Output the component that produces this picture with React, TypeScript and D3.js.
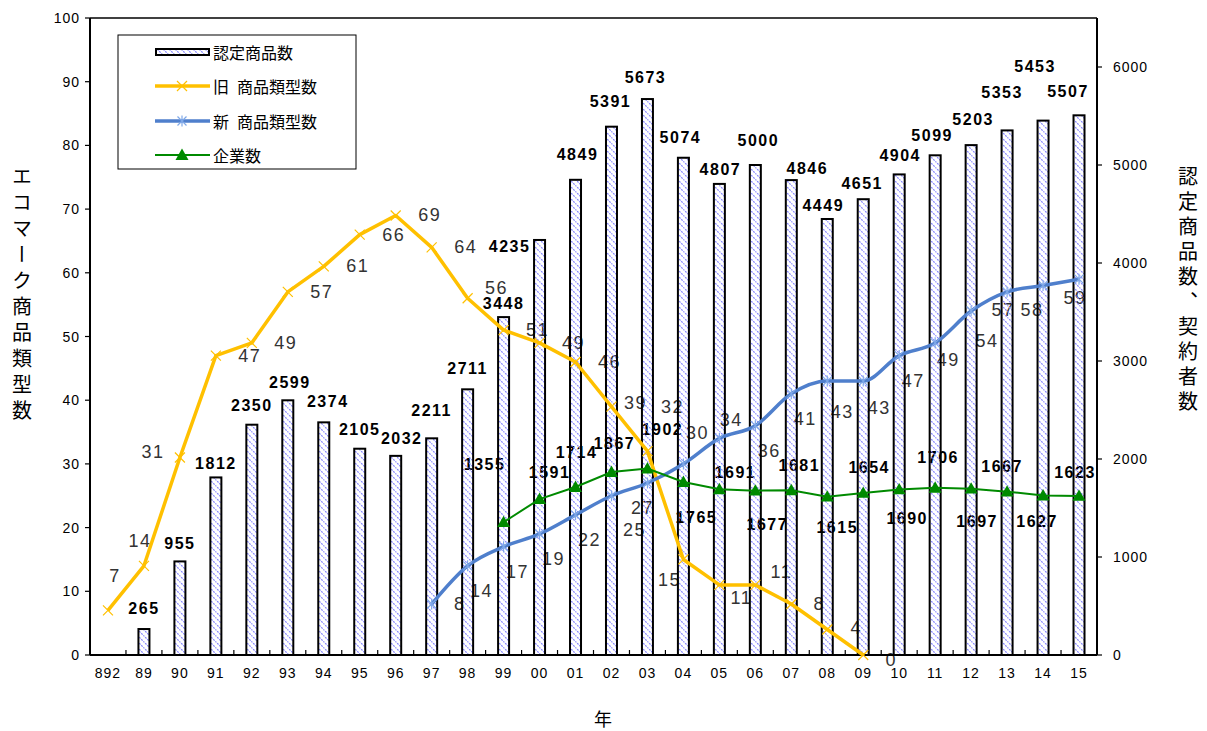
import React from "react";
import * as d3 from "d3";

// ---------- data ----------
const categories = ["892","89","90","91","92","93","94","95","96","97","98","99","00","01","02","03","04","05","06","07","08","09","10","11","12","13","14","15"];
const certifiedProducts: (number | null)[] = [null,265,955,1812,2350,2599,2374,2105,2032,2211,2711,3448,4235,4849,5391,5673,5074,4807,5000,4846,4449,4651,4904,5099,5203,5353,5453,5507];
const oldTypes: (number | null)[] = [7,14,31,47,49,57,61,66,69,64,56,51,49,46,39,32,15,11,11,8,4,0,null,null,null,null,null,null];
const newTypes: (number | null)[] = [null,null,null,null,null,null,null,null,null,8,14,17,19,22,25,27,30,34,36,41,43,43,47,49,54,57,58,59];
const enterprises: (number | null)[] = [null,null,null,null,null,null,null,null,null,null,null,1355,1591,1714,1867,1902,1765,1691,1677,1681,1615,1654,1690,1706,1697,1667,1627,1623];
const leftTicks = [0,10,20,30,40,50,60,70,80,90,100];
const rightTicks = [0,1000,2000,3000,4000,5000,6000];
const seriesNames = ["認定商品数", "旧\u2002商品類型数", "新\u2002商品類型数", "企業数"];
const leftTitle = "エコマーク商品類型数";
const rightTitle = "認定商品数、契約者数";
const xTitle = "年";

// ---------- label layout (offsets of label centre from its mark) ----------
const barLabelOffset: Record<string, [number, number]> = {
  "89": [0, -21], "90": [0, -18], "91": [0, -14], "92": [0, -19], "93": [2, -18], "94": [4, -21],
  "95": [0, -19], "96": [6, -17], "97": [0, -28], "98": [0, -21], "99": [0, -14], "00": [-30, 7],
  "01": [2, -25], "02": [-1, -25], "03": [-2, -22], "04": [-3, -20], "05": [1, -14], "06": [3, -25],
  "07": [16, -12], "08": [-4, -13], "09": [-1, -16], "10": [1, -19], "11": [-3, -20], "12": [2, -26],
  "13": [-5, -38], "14": [-8, -54], "15": [-11, -24],
};
const oldLabelOffset: Record<string, [number, number]> = {
  "892": [7, -34], "89": [-4, -25], "90": [-27, -6], "98": [29, -10], "02": [24, -4], "03": [25, -44],
  "04": [-14, 21], "05": [22, 13], "06": [26, -13], "07": [28, 0], "08": [29, -2], "09": [28, 5],
};
const newLabelOffset: Record<string, [number, number]> = {
  "97": [28, 0], "02": [23, 34], "03": [-5, 25], "04": [14, -31], "05": [12, -18], "08": [15, 31],
  "09": [16, 27], "11": [13, 17], "12": [16, 30], "13": [-4, 18], "14": [-11, 24], "15": [-4, 19],
};
const entLabelOffset: Record<string, [number, number]> = {
  "99": [-19, -58], "00": [10, -27], "01": [1, -35], "02": [3, -29], "03": [15, -39], "04": [13, 35],
  "05": [16, -17], "06": [12, 34], "07": [8, -25], "08": [10, 31], "09": [6, -25], "10": [8, 29],
  "11": [3, -30], "12": [6, 33], "13": [-5, -25], "14": [-6, 26], "15": [-4, -23],
};

const W = 1207, H = 731;
const PL = 90, PR = 1097, PT = 18, PB = 655;
const ORANGE = "#FFC000";
const BLUE = "#4F7FCC";
const BLUE_MK = "#7FA8E8";
const GREEN = "#008A00";
const NUM_FONT = "'Liberation Sans', Arial, sans-serif";
const CJK_FONT = "'Noto Sans CJK JP', sans-serif";

export default function App() {
  const x = d3.scaleBand<string>().domain(categories).range([PL, PR]).padding(0);
  const cx = (c: string) => (x(c) as number) + x.bandwidth() / 2;
  const yL = d3.scaleLinear().domain([0, 100]).range([PB, PT]);
  const yR = d3.scaleLinear().domain([0, 6500]).range([PB, PT]);
  const barW = 11;

  type P = { c: string; v: number };
  const pts = (arr: (number | null)[]): P[] =>
    categories.map((c, i) => ({ c, v: arr[i] as number })).filter((d) => d.v !== null && d.v !== undefined);

  const oldPts = pts(oldTypes);
  const newPts = pts(newTypes);
  const entPts = pts(enterprises);
  const barPts = pts(certifiedProducts);

  const oldLine = d3.line<P>().x((d) => cx(d.c)).y((d) => yL(d.v)).curve(d3.curveLinear)(oldPts) || "";
  const newLine = d3.line<P>().x((d) => cx(d.c)).y((d) => yL(d.v)).curve(d3.curveMonotoneX)(newPts) || "";
  const entLine = d3.line<P>().x((d) => cx(d.c)).y((d) => yR(d.v)).curve(d3.curveLinear)(entPts) || "";

  const xMark = (px: number, py: number, s: number, color: string, key: string) => (
    <path key={key} d={`M${px - s},${py - s}L${px + s},${py + s}M${px - s},${py + s}L${px + s},${py - s}`} stroke={color} strokeWidth={1.2} fill="none" />
  );
  const starMark = (px: number, py: number, s: number, color: string, key: string) => (
    <path key={key} d={`M${px - s},${py - s}L${px + s},${py + s}M${px - s},${py + s}L${px + s},${py - s}M${px},${py - s - 1}L${px},${py + s + 1}`} stroke={color} strokeWidth={1.2} fill="none" />
  );
  const triMark = (px: number, py: number, s: number, color: string, key: string) => (
    <path key={key} d={`M${px},${py - s}L${px + s},${py + s * 0.75}L${px - s},${py + s * 0.75}Z`} fill={color} />
  );

  const numLabelStyle = { fontFamily: NUM_FONT, letterSpacing: "1.5px" } as React.CSSProperties;

  return (
    <svg width={W} height={H} style={{ position: "absolute", left: 0, top: 0, background: "#fff" }}>
      <defs>
        <pattern id="stripe" patternUnits="userSpaceOnUse" width="6" height="6">
          <path d="M-1,-1L7,7M-1,5L1,7M5,-1L7,1" stroke="#8585FF" strokeWidth="1.2" strokeDasharray="2 1" fill="none" />
        </pattern>
      </defs>
      <rect x={0} y={0} width={W} height={H} fill="#fff" />

      {/* ---- data labels (drawn beneath bars, as in the source) ---- */}
      <g fontSize={18} fill="#333" textAnchor="middle" dominantBaseline="central" style={numLabelStyle}>
        {oldPts.map((d) => {
          const o = oldLabelOffset[d.c] || [34, 0];
          return <text key={"ol" + d.c} x={cx(d.c) + o[0]} y={yL(d.v) + o[1]}>{d.v}</text>;
        })}
        {newPts.map((d) => {
          const o = newLabelOffset[d.c] || [14, 25];
          return <text key={"nl" + d.c} x={cx(d.c) + o[0]} y={yL(d.v) + o[1]}>{d.v}</text>;
        })}
      </g>
      <g fontSize={16} fontWeight="bold" fill="#000" textAnchor="middle" dominantBaseline="central" style={numLabelStyle}>
        {entPts.map((d) => {
          const o = entLabelOffset[d.c] || [6, -26];
          return <text key={"el" + d.c} x={cx(d.c) + o[0]} y={yR(d.v) + o[1]}>{d.v}</text>;
        })}
        {barPts.map((d) => {
          const o = barLabelOffset[d.c] || [0, -20];
          return <text key={"bl" + d.c} x={cx(d.c) + o[0]} y={yR(d.v) + o[1]}>{d.v}</text>;
        })}
      </g>

      {/* ---- bars ---- */}
      <g>
        {barPts.map((d) => (
          <rect key={"b" + d.c} x={cx(d.c) - barW / 2} y={yR(d.v)} width={barW} height={PB - yR(d.v)}
            fill="url(#stripe)" stroke="#000" strokeWidth={2} />
        ))}
      </g>

      {/* ---- frame & axes ---- */}
      <g stroke="#000" fill="none">
        <line x1={PL} y1={PT} x2={PR} y2={PT} strokeWidth={1.5} />
        <line x1={PL} y1={PT} x2={PL} y2={PB} strokeWidth={2} />
        <line x1={PR} y1={PT} x2={PR} y2={PB} strokeWidth={2} />
        <line x1={PL} y1={PB} x2={PR} y2={PB} strokeWidth={2} />
        {leftTicks.map((t) => <line key={"lt" + t} x1={PL - 5} x2={PL} y1={yL(t)} y2={yL(t)} strokeWidth={1.2} />)}
        {rightTicks.map((t) => <line key={"rt" + t} x1={PR} x2={PR + 5} y1={yR(t)} y2={yR(t)} strokeWidth={1.2} />)}
        {categories.slice(1).map((c) => <line key={"xt" + c} x1={x(c) as number} x2={x(c) as number} y1={PB} y2={PB - 5} strokeWidth={1.2} />)}
      </g>
      <g fontSize={14} fill="#000" style={{ fontFamily: NUM_FONT, letterSpacing: "1px" }} dominantBaseline="central">
        {leftTicks.map((t) => <text key={"ltl" + t} x={PL - 10} y={yL(t)} textAnchor="end">{t}</text>)}
        {rightTicks.map((t) => <text key={"rtl" + t} x={PR + 16} y={yR(t)} textAnchor="start">{t}</text>)}
        {categories.map((c) => <text key={"xl" + c} x={cx(c)} y={673} textAnchor="middle">{c}</text>)}
      </g>

      {/* ---- lines ---- */}
      <path d={oldLine} fill="none" stroke={ORANGE} strokeWidth={3.5} strokeLinejoin="round" />
      {oldPts.map((d) => xMark(cx(d.c), yL(d.v), 5, ORANGE, "om" + d.c))}
      <path d={newLine} fill="none" stroke={BLUE} strokeWidth={3.5} strokeLinejoin="round" />
      {newPts.map((d) => starMark(cx(d.c), yL(d.v), 4.5, BLUE_MK, "nm" + d.c))}
      <path d={entLine} fill="none" stroke={GREEN} strokeWidth={2} />
      {entPts.map((d) => triMark(cx(d.c), yR(d.v), 6.5, GREEN, "em" + d.c))}

      {/* ---- axis titles ---- */}
      <text x={22} y={166} fontSize={20} fill="#000"
        style={{ fontFamily: CJK_FONT, writingMode: "vertical-rl", letterSpacing: "6px" } as React.CSSProperties}>{leftTitle}</text>
      <text x={1188} y={166} fontSize={20} fill="#000"
        style={{ fontFamily: CJK_FONT, writingMode: "vertical-rl", letterSpacing: "5px" } as React.CSSProperties}>{rightTitle}</text>
      <text x={603} y={718} fontSize={18} fill="#000" textAnchor="middle" dominantBaseline="central" style={{ fontFamily: CJK_FONT }}>{xTitle}</text>

      {/* ---- legend ---- */}
      <g>
        <rect x={118} y={35} width={238} height={134} fill="#fff" stroke="#000" strokeWidth={1} />
        <rect x={156} y={49} width={53} height={6} fill="url(#stripe)" stroke="#000" strokeWidth={2} />
        <line x1={155} x2={210} y1={86} y2={86} stroke={ORANGE} strokeWidth={3.5} />
        {xMark(182, 86, 5, ORANGE, "lgo")}
        <line x1={155} x2={210} y1={121} y2={121} stroke={BLUE} strokeWidth={3.5} />
        {starMark(182, 121, 4.5, BLUE_MK, "lgn")}
        <line x1={155} x2={210} y1={155} y2={155} stroke={GREEN} strokeWidth={2} />
        {triMark(182, 155, 6.5, GREEN, "lge")}
        <g fontSize={16} fill="#000" dominantBaseline="central" style={{ fontFamily: CJK_FONT }}>
          {seriesNames.map((n, i) => (
            <text key={"lg" + i} x={213} y={[52, 86, 121, 155][i]}>{n}</text>
          ))}
        </g>
      </g>
    </svg>
  );
}
